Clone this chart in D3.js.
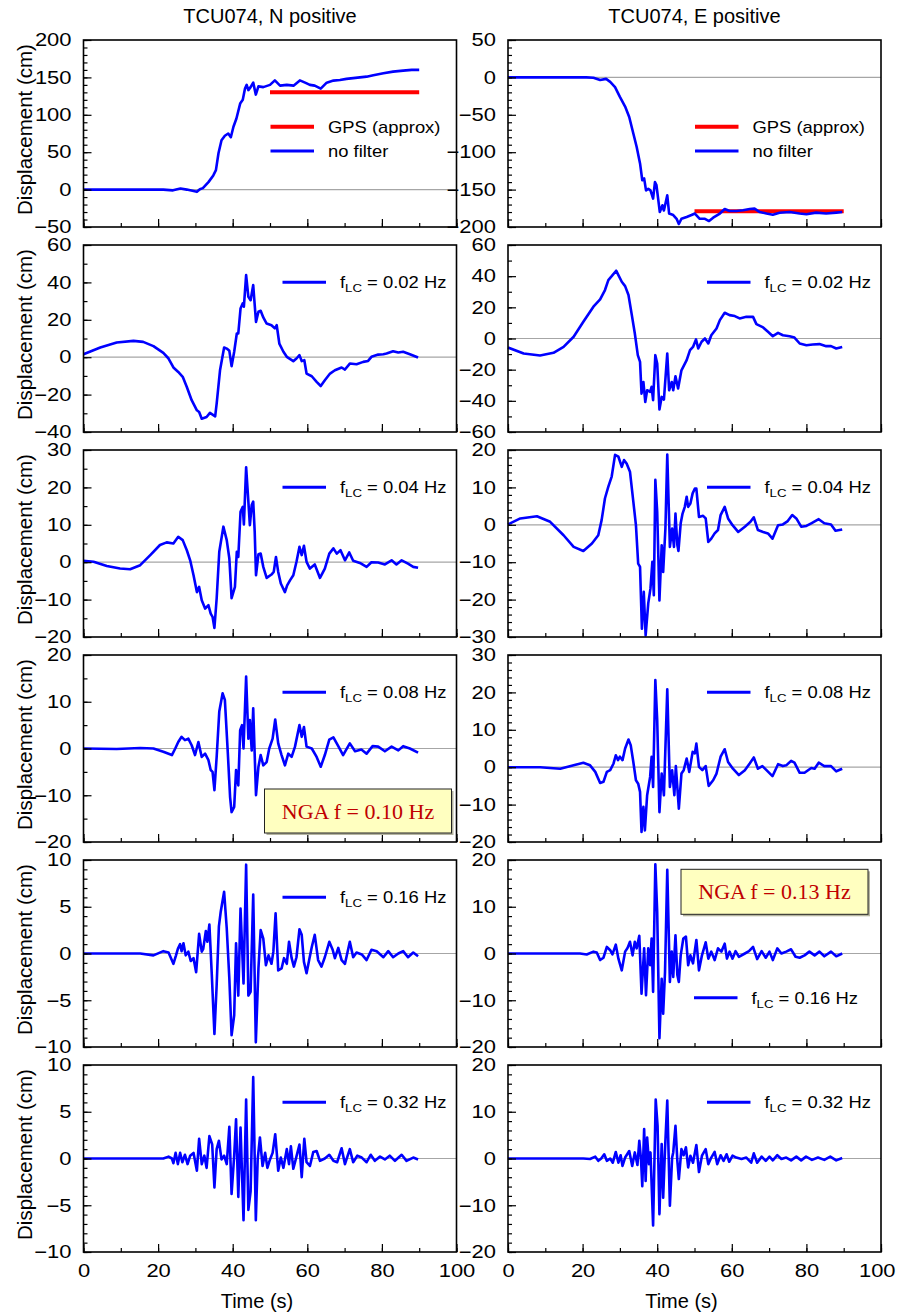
<!DOCTYPE html>
<html>
<head>
<meta charset="utf-8">
<script src="https://cdn.jsdelivr.net/npm/d3@7"></script>
<style>
  body { margin: 0; background: #fff; }
  svg { display: block; }
</style>
</head>
<body>
<div id="chart"></div>
<script>
// DATA: [time (s), displacement (cm)]
var nNoFilter = [[0,0],[21.4,0],[24,-1],[26,1.5],[27.7,0],[30.4,-3],[31.2,0.5],[32,2],[33.5,10],[34.8,19],[35.5,26],[36.2,49],[37,66],[37.9,72],[38.8,75],[39.5,70],[40.2,84],[41,95],[42,115],[42.7,120],[43.3,135],[43.75,140],[44.2,133],[44.8,137],[45.5,143],[46.2,127],[46.9,138],[48.2,137],[50,140],[51.3,146],[52.7,139],[54.5,140],[56.3,139],[58,146],[59.4,143],[60.7,140],[62,139],[63.6,135],[65.2,143],[67,145.7],[68.75,146.6],[70.5,148],[72.3,149],[74.1,150],[75.9,151],[77.7,153],[80.4,155.5],[83,157.7],[85.7,159],[88,160],[90,160]];
var eNoFilter = [[0,0],[21,0],[22.9,-0.5],[24.7,-3.5],[26.3,-2],[27.4,-6],[28.7,-13],[30,-26],[31.4,-39],[32.5,-53],[33.6,-75],[34.5,-93],[35.4,-115],[36,-137.5],[36.5,-135],[37,-151],[37.6,-149],[38.2,-151],[38.9,-162],[39.4,-140],[39.8,-144],[40.3,-164],[40.7,-180],[41.4,-171],[41.8,-178],[42.7,-157.6],[43.2,-182],[44.3,-184],[45.2,-189],[45.8,-196],[46.5,-189],[47.9,-186.6],[49.2,-184],[50.1,-182],[51.4,-189],[52.8,-189],[53.9,-192],[55,-187.5],[56.8,-182],[58.1,-176],[59.4,-178.6],[61.2,-178.6],[63,-177.7],[64.8,-176],[66.1,-175.4],[67.5,-180],[69.3,-182],[71,-183.5],[72.8,-181],[75.5,-180],[78.2,-182],[80,-183],[82.6,-180.8],[85.3,-182],[88,-180.8],[89.6,-180]];
var gpsN = [[50,130],[90,130]];
var gpsE = [[50,-179],[90,-179]];

var n002 = [[0,1.6],[4.5,5.2],[8.9,7.9],[13.4,8.75],[16,8.2],[18.75,5.9],[21.4,2.3],[22.8,-0.7],[24.1,-5.5],[25.4,-7.9],[26.6,-10.5],[27.7,-15.9],[29,-23],[30.4,-28.4],[31,-29.3],[31.7,-32.9],[33,-32],[33.9,-29.8],[35.3,-31.6],[35.7,-24.8],[36.6,-7],[37.7,5.2],[38.4,4.6],[39.1,3.4],[39.7,-4.8],[40.4,2.9],[41.1,12.7],[41.5,12.7],[42.1,26],[42.7,28.8],[43,27],[43.6,43.9],[44.2,32.3],[44.8,30.5],[45.1,34],[45.5,38.6],[45.8,30.5],[46.25,18.9],[46.9,24.3],[47.5,24.8],[48.2,21.25],[49.1,18],[50.4,17.1],[51.3,15.4],[51.8,17.1],[52.5,7.3],[53.6,2.9],[54.5,0.2],[56.25,-2.1],[57.1,-0.7],[57.9,1.1],[58.5,-2.1],[59.2,-1.6],[59.8,-8.75],[61.2,-10.2],[62.5,-13.2],[63.6,-15.4],[64.7,-12.3],[66.1,-8.75],[67.4,-7],[69.2,-5.5],[70.1,-6.6],[71.4,-3.4],[73.2,-3.75],[75,-2.5],[76.3,-2],[77.2,0.2],[79,1.4],[80.4,1.6],[81.25,2],[83,3.2],[84.4,2.5],[85.7,2.9],[87.5,1.6],[89.7,-0.2]];
var e002 = [[0,-5.8],[4.2,-9.6],[8.6,-10.9],[12.2,-9.2],[14.9,-5.4],[17.6,1.1],[20.2,10.7],[22.9,20.4],[24.7,25.1],[26,31.1],[26.9,37.5],[27.8,40],[29,43.5],[29.6,40.7],[30.5,36.4],[31.4,33.6],[32.3,27.9],[33.2,15],[34,3.2],[34.8,-10.7],[35.4,-15],[35.8,-35.4],[36.3,-27.9],[36.8,-40.7],[37.3,-33.2],[38.1,-34.3],[38.5,-31],[38.9,-39.6],[39.5,-10.7],[40,-16],[40.6,-45.6],[41.2,-37.5],[41.8,-39.2],[42.7,-9.6],[43.2,-33.2],[43.9,-27.9],[44.3,-33.2],[44.9,-24.2],[45.6,-32.1],[46.5,-20.4],[47.9,-13.9],[48.8,-7.5],[49.6,-5.4],[50.4,-0.6],[51,-6.4],[51.9,-2.1],[52.8,0],[53.7,-3.2],[54.5,2.1],[55.9,6.4],[56.8,11.8],[58.1,16.5],[59.4,15],[60.8,14.4],[62.1,12.9],[63.9,13.9],[65.7,13.9],[66.6,9.2],[68.4,7.1],[69.7,4.3],[71,1.5],[72.4,3.6],[73.7,2.1],[75.5,1.5],[76.8,0.6],[78.2,-3.2],[80,-4.3],[81.7,-3.9],[83.5,-3.6],[85.3,-4.9],[86.6,-4.9],[88,-6.4],[89.6,-5.4]];

var n004 = [[0,0.4],[2.7,0.1],[6.25,-1],[9.8,-1.7],[12.5,-1.9],[15.2,-0.8],[17.9,1.9],[20.5,4.6],[22.3,5.3],[24.1,5],[25.4,6.8],[26.6,5.9],[27.7,3.2],[28.6,0.5],[29.5,-3.5],[30.4,-8],[31,-6.6],[31.7,-10.2],[32.6,-12.4],[33.5,-11.5],[34.1,-13.75],[34.6,-14.6],[35.1,-17.6],[35.7,-9.7],[36.4,2.8],[37.5,9.5],[38.4,5.9],[39.1,1],[39.7,-9.6],[40.6,-6.6],[41.1,2.8],[41.5,1.4],[42.1,13.5],[42.7,14.8],[43,10.1],[43.6,25.4],[44.2,16.2],[44.6,9.9],[45.1,15.3],[45.5,16.2],[45.9,8.1],[46.25,-3.5],[46.9,2.1],[47.5,2.3],[48.2,-1.25],[49.1,-4.2],[50.4,-3.3],[51,-2.6],[51.6,1.4],[52.2,-2.6],[52.9,-5.7],[54,-8],[54.6,-6.2],[55.4,-4.8],[56.25,-3.5],[57.1,0.1],[57.9,4.1],[58.5,1.9],[59.1,4.4],[59.8,0.1],[60.7,-1.7],[62,-0.6],[63.4,-4.2],[64.7,-1.7],[65.9,2.3],[67,3.7],[67.9,2.3],[68.9,3.2],[70.1,0.5],[71.25,2.6],[72.3,0.4],[74.1,-0.2],[75.9,-1.25],[77.2,0],[79,-0.1],[80.8,-0.6],[82.6,0.5],[83.9,-0.6],[85.3,0.5],[87,-0.4],[88.4,-1.25],[89.7,-1.5]];
var e004 = [[0,0.1],[3.3,1.7],[7.75,2.3],[11.3,0.8],[14.9,-2.8],[17.6,-5.9],[20.2,-7],[22.5,-5],[24.2,-2.8],[25.1,1.25],[26,7.1],[26.9,10.2],[27.8,12.9],[28.7,18.7],[29.6,18.2],[30.5,15.5],[31.1,17.3],[31.8,16.4],[32.7,14.2],[33.6,6.2],[34.3,-0.1],[34.9,-10.4],[35.4,-11.25],[35.9,-27.8],[36.4,-17.9],[36.9,-29.6],[37.6,-21],[38.2,-17],[38.7,-9.9],[39.1,-18.8],[39.5,12],[40,3.5],[40.6,-20.2],[41.2,-5.5],[41.6,-12.6],[42.2,-1],[42.7,18.8],[43.4,-5.9],[44,-1],[44.5,-5.9],[44.9,3],[45.4,-5.4],[45.7,-7],[46.3,0.4],[46.8,3],[47.4,4.8],[47.9,7.5],[48.3,4.8],[48.9,5.7],[49.5,8.4],[50.1,9.7],[50.5,9.7],[51.2,2.1],[52.3,2.4],[53,1.7],[53.7,-4.6],[54.5,-3.7],[55.4,-2.3],[56.3,-1.4],[57,2.6],[58.1,4.8],[59,1.7],[60.2,-0.1],[61.7,-1.9],[63.5,-0.5],[65,0.8],[65.9,2],[67,-1.4],[68.4,-1.9],[69.7,-2.3],[70.9,-3.7],[72.4,-0.1],[73.7,0.1],[75,1],[76.2,2.6],[77.3,1.7],[78.6,-0.5],[80,-0.3],[81.3,0.4],[83.3,1.5],[84.8,0.4],[86.6,0.1],[87.8,-1.6],[89.6,-1.25]];

var n008 = [[0,0],[8.9,-0.1],[15.2,0.1],[18.75,0],[21.4,-0.7],[23.7,-1.4],[24.6,0],[25.4,1.4],[26.3,2.5],[27.2,1.8],[28.1,2.1],[29,0.7],[29.9,-1.4],[30.8,1.4],[31.7,-1.8],[32.6,-1.1],[33.5,-2.5],[34.1,-4.6],[34.6,-5],[35.1,-8.9],[35.7,-1.8],[36.4,7.9],[37.3,11.8],[37.9,10.4],[38.7,-1.1],[39.3,-10.4],[39.7,-13.6],[40.4,-12.5],[40.9,-4.6],[41.5,-7.9],[42,3.9],[42.5,5],[42.9,0],[43.6,15.4],[44.2,2.1],[44.6,6.1],[45.1,-0.4],[45.5,8.6],[46.25,-10],[46.9,-3.9],[47.5,-1.4],[48.2,-3.6],[49.1,-2.9],[49.8,0],[50.7,2.1],[51.4,6.2],[52.2,1.1],[53.1,-1.4],[54,-3.6],[54.9,-1.1],[55.8,-1.8],[56.7,0.4],[57.9,5],[58.5,2.5],[59.1,4.6],[59.8,0.4],[61.2,0],[62.5,-1.8],[63.6,-3.9],[64.7,-1.4],[65.9,1.9],[67,2.4],[68.3,0.5],[69.6,-1.4],[71.4,1.1],[72.8,-0.6],[74.5,-0.2],[75.9,-1.1],[77.5,0.5],[79,0.4],[80.8,-0.6],[82.6,0.4],[84.4,-0.4],[85.7,0.5],[87.5,0],[89.7,-0.9]];
var e008 = [[0,0],[8.6,0],[14,-0.4],[17.6,0.5],[20.2,1.2],[22,0.5],[23.4,-1.25],[24.7,-4.2],[25.6,-3.9],[26.5,-1.25],[27.4,-0.8],[28.3,1],[28.9,3.2],[29.5,1.9],[30,2.8],[30.7,1.9],[31.4,5],[32.3,7.4],[32.9,5.9],[33.6,1.4],[34.3,-3.5],[34.9,-4.4],[35.4,-6.6],[35.8,-17.3],[36.3,-10.6],[36.7,-16.9],[37.3,-7.5],[38.1,-2.6],[38.5,2.8],[38.9,-5.3],[39.5,23.3],[40,12.6],[40.6,-12],[41.2,-1.7],[41.8,-7.5],[42.7,20.8],[43.4,-5.3],[44,-0.8],[44.6,-7.5],[45,0.3],[45.8,-11.1],[46.5,-1.7],[47.1,-0.8],[47.9,2.3],[48.6,-1.25],[49.5,4.1],[50.1,3.7],[50.5,6.3],[51.2,0.1],[52.1,-0.8],[53,0.3],[53.8,-5],[55,-3.5],[55.9,-1.7],[57,2.8],[58.1,4.8],[59,1.4],[60.3,-0.4],[61.9,-2.1],[63.5,-0.8],[64.8,1],[65.9,2.6],[67,-0.4],[68.2,0.3],[69.3,-0.8],[70.9,-2.4],[72.4,0.8],[73.7,0.3],[74.6,0.5],[75.9,1.7],[76.8,1.2],[78.2,-1.5],[79.5,-1.5],[81.3,-0.2],[82.2,-0.4],[83.3,1.2],[84.8,0.3],[86.6,0.3],[88,-1.1],[89.6,-0.4]];

var n016 = [[0,0],[15.2,0],[18.75,-0.2],[21.4,0.25],[22.8,0.1],[24.1,-1.1],[24.8,-0.2],[25.3,0.5],[25.9,1],[26.3,0.25],[26.8,1.1],[27.4,-0.2],[28.1,0.2],[28.75,-0.8],[29.5,-0.5],[30.2,-2],[31,2.1],[31.7,0.2],[32.1,0.5],[32.8,2.4],[33.2,1.25],[33.75,3.1],[34.4,-2.3],[35.1,-8.6],[35.7,-3.4],[36.3,2.9],[36.8,4.5],[37.7,6.6],[38.4,2.7],[39.1,-2.7],[39.7,-8.75],[40.4,-6.6],[40.9,1.1],[41.5,-4.5],[42.1,4.8],[42.9,-3.2],[43.6,9.5],[44.2,-4.5],[44.8,-4.1],[45.5,6.3],[46.2,-9.5],[46.9,-1.6],[47.5,2.5],[48.2,1.6],[48.9,-1.25],[49.6,-0.2],[50.4,-1.1],[50.9,0.2],[51.5,4.3],[52.2,-1.8],[53.1,-1.6],[53.75,-0.5],[54.5,-1.1],[55.1,1.25],[55.8,-0.5],[56.4,-1.4],[57.1,-0.4],[57.9,2.6],[58.5,2],[59.1,-0.9],[59.8,-2.1],[60.5,-0.7],[61.2,0.7],[62,2],[62.9,-0.7],[63.8,-1.4],[64.7,-0.4],[65.9,1.25],[66.8,0.4],[67.4,-0.5],[68.3,0.6],[69.2,-0.7],[70.1,-1.1],[71.4,1.25],[72.3,-0.4],[73.2,0.1],[74.6,-0.1],[75.9,-0.7],[77.2,0.4],[78.6,0.25],[80.4,-0.4],[81.7,0.25],[83,-0.4],[84.4,0],[85.7,0.25],[87,-0.4],[88.4,0.1],[89.7,-0.3]];
var e016 = [[0,0],[19.3,0],[21.1,-0.2],[22.9,0.4],[23.8,0.2],[24.7,-1.4],[25.6,-0.9],[26.5,1.4],[27.4,0.7],[28,-0.2],[28.9,1.9],[29.6,-1.1],[30.5,-3.6],[31.4,0.4],[32,1.1],[32.7,2.5],[33.4,-0.4],[34,2.5],[34.5,1.1],[35.2,3.8],[35.8,-8.6],[36.5,1.1],[37,-8.9],[37.6,1.1],[38.1,-2.5],[38.5,3.2],[38.9,-8.2],[39.5,19.1],[40,8.9],[40.6,-18.1],[41.2,-5.4],[41.6,-12.9],[42.1,-3.9],[42.7,17.9],[43.4,-6.1],[43.9,0.4],[44.3,-5],[44.9,3.9],[45.4,-4.6],[45.8,-6.1],[46.3,-0.4],[47,3.2],[47.7,3.6],[48.3,-2.5],[48.9,-0.4],[49.6,-2.1],[50.5,2.9],[51.2,-3.6],[52,-0.4],[53,2.4],[53.7,-1.1],[54.5,0.4],[55.4,-1.4],[56.3,1.1],[57.2,0.4],[58.1,2.1],[58.7,-1.1],[59.4,0.4],[60.2,-1.1],[61,0.5],[61.9,-0.7],[63.5,0],[64.6,0.5],[65.7,1.4],[66.8,-1.2],[68,0.5],[69.1,-0.9],[70.1,0.4],[71,-1.4],[72.2,1.1],[73.3,0],[74.6,0.4],[75.9,0.9],[77.1,-0.7],[78.2,-0.9],[79.5,-0.4],[80.8,0.4],[82.2,-0.4],[83.5,0.4],[84.8,-0.6],[86.6,0.4],[88,-0.6],[89.6,0]];

var n032 = [[0,0],[21.4,0],[22.8,0.2],[23.7,0],[24.1,-0.5],[24.7,0.6],[25.3,-0.6],[25.9,0.6],[26.5,-0.4],[27.2,0.4],[27.9,-0.6],[28.6,0.3],[29.5,0.6],[30.4,-1.3],[31,2.1],[31.7,-0.6],[32.4,0.3],[33,-1],[33.75,2.4],[34.5,1.5],[35.1,-3.1],[35.7,1],[36.3,1.9],[37,-0.1],[37.7,0.3],[38.4,-0.6],[39.1,3.4],[39.7,-3.8],[40.4,0.3],[40.9,4.2],[41.5,-4.1],[42.1,3.3],[42.9,-6.6],[43.6,6.3],[44.2,-5.5],[44.8,-3.5],[45.5,8.7],[46.2,-6.6],[46.7,-0.1],[47.3,2.25],[48,-0.8],[48.7,0.6],[49.3,-1],[50,-0.1],[50.7,0.6],[51.4,2.6],[52.2,-1.3],[52.9,0.1],[53.6,-1],[54.5,1],[55.1,-0.6],[55.6,1.3],[56.25,-1.1],[56.9,-0.1],[57.9,1.5],[58.5,-2],[59.2,2.1],[59.8,-0.4],[60.7,-0.8],[61.6,0.7],[62.5,0.8],[63.4,-0.25],[64.7,0],[65.9,0.4],[67,-0.25],[68,-0.4],[69.2,1.1],[70.1,-0.6],[71.4,1],[72.3,-0.4],[73.4,0.3],[74.6,0.1],[75.9,-0.4],[77,0.4],[78.1,-0.25],[79.5,0.2],[80.8,-0.1],[82.1,0.3],[83.5,-0.25],[85.3,0.4],[86.6,-0.25],[88.4,0.1],[89.7,-0.1]];
var e032 = [[0,0],[20.2,0],[22,-0.1],[23.4,0.4],[24.2,-0.5],[25,0],[25.8,0.9],[26.5,-0.5],[27.4,0],[28.1,-0.9],[28.9,1.4],[29.6,-0.9],[30.2,0.7],[30.7,-1.6],[31.4,0.2],[32.5,1.6],[33.3,-1.6],[34,1.3],[34.7,-1.4],[35.2,3.8],[35.65,-0.1],[36,-5.9],[36.5,6.3],[36.9,-4.8],[37.3,4.5],[37.8,-1.2],[38.2,1.3],[38.9,-14.3],[39.6,12.6],[40.1,7],[40.6,-11.9],[41.2,3.1],[41.6,-8.4],[42.1,2],[42.7,12.4],[43.4,-10.1],[44,0.2],[44.3,1.3],[44.9,7],[45.4,-0.5],[45.8,-4.4],[46.5,2],[47.1,0.7],[47.7,2.4],[48.3,-1.9],[48.9,0.6],[49.6,-0.9],[50.5,2.9],[51.2,-2.9],[52,0.6],[53,2],[53.7,-1.2],[54.5,0.2],[55.4,1.4],[56.1,-1.2],[57,0.7],[57.8,-0.5],[58.6,0.9],[59.3,-0.7],[60.2,0.6],[61.2,0.2],[62.6,-0.1],[63.9,0.2],[65.2,-0.9],[65.9,1.1],[66.8,-0.9],[68,0.4],[69.1,-0.5],[70.1,0.4],[71,-0.4],[72.2,0.7],[73.3,-0.1],[74.6,0.2],[75.9,-0.4],[77.3,0.4],[78.6,-0.4],[79.9,0.4],[81.5,-0.3],[83.1,0.2],[84.8,-0.3],[86.4,0.4],[88,-0.4],[89.6,0.1]];

var seriesN = [nNoFilter, n002, n004, n008, n016, n032];
var seriesE = [eNoFilter, e002, e004, e008, e016, e032];
var cutoffs = ["0.02", "0.04", "0.08", "0.16", "0.32"];
var titles = ["TCU074, N positive", "TCU074, E positive"];
var xTickValues = [0, 20, 40, 60, 80, 100];
var yDomainsN = [[-50, 200], [-40, 60], [-20, 30], [-20, 20], [-10, 10], [-10, 10]];
var yDomainsE = [[-200, 50], [-60, 60], [-30, 20], [-20, 30], [-20, 20], [-20, 20]];
var yStepsN = [50, 20, 10, 10, 5, 5];
var yStepsE = [50, 20, 10, 10, 10, 10];
var yMinorN = [10, 10, 5, 5, 1, 1];
var yMinorE = [10, 10, 2, 2, 2, 2];

// LAYOUT
var width = 898, height = 1316;
var plotW = 373, plotH = 187;
var colX = [83.5, 508];
var rowY0 = 40, rowGap = 205;
var font = "'Liberation Sans', Arial, Helvetica, sans-serif";
var blue = "#0000ff";
var red = "#ff0000";

var svg = d3
  .select("#chart")
  .append("svg")
  .attr("width", width)
  .attr("height", height)
  .style("font-family", font);

var xScale = d3.scaleLinear().domain([0, 100]).range([0, plotW]);

function stepTicks(domain, step) {
  var out = [];
  for (var v = domain[0]; v <= domain[1] + 1e-9; v += step) out.push(+v.toFixed(6));
  return out;
}

function stretchLabels(sel, sx) {
  // reference tick labels are a bit wider than the plain font
  sel.selectAll(".tick text").each(function () {
    var t = d3.select(this);
    var x = +t.attr("x") || 0;
    var y = +t.attr("y") || 0;
    t.attr("x", 0).attr("y", 0).attr("transform", "translate(" + x + "," + y + ") scale(" + sx + ",1)");
  });
}

function drawPanel(col, row) {
  var data = col == 0 ? seriesN[row] : seriesE[row];
  var yDomain = col == 0 ? yDomainsN[row] : yDomainsE[row];
  var yStep = col == 0 ? yStepsN[row] : yStepsE[row];
  var yMinor = col == 0 ? yMinorN[row] : yMinorE[row];
  var top = rowY0 + rowGap * row;
  var left = colX[col];

  var yScale = d3.scaleLinear().domain(yDomain).range([plotH, 0]);
  var g = svg.append("g").attr("transform", "translate(" + left + "," + top + ")");

  // zero line
  g.append("line")
    .attr("x1", 0)
    .attr("x2", plotW)
    .attr("y1", yScale(0))
    .attr("y2", yScale(0))
    .attr("stroke", "#a6a6a6")
    .attr("stroke-width", 1.2);

  var line = d3
    .line()
    .x(function (d) { return xScale(d[0]); })
    .y(function (d) { return yScale(d[1]); });

  if (row == 0) {
    g.append("path")
      .datum(col == 0 ? gpsN : gpsE)
      .attr("d", line)
      .attr("fill", "none")
      .attr("stroke", red)
      .attr("stroke-width", 4);
  }

  g.append("path")
    .datum(data)
    .attr("d", line)
    .attr("fill", "none")
    .attr("stroke", blue)
    .attr("stroke-width", 2.6)
    .attr("stroke-linejoin", "round");

  // minor ticks
  g.append("g")
    .call(d3.axisLeft(yScale).tickValues(stepTicks(yDomain, yMinor)).tickSize(-4).tickSizeOuter(0).tickFormat(""))
    .call(function (a) { a.select(".domain").remove(); });
  g.append("g")
    .attr("transform", "translate(0," + plotH + ")")
    .call(d3.axisBottom(xScale).tickValues(d3.range(0, 101, 10)).tickSize(-4).tickSizeOuter(0).tickFormat(""))
    .call(function (a) { a.select(".domain").remove(); });

  // major ticks + labels
  var yAxis = g.append("g")
    .call(d3.axisLeft(yScale).tickValues(stepTicks(yDomain, yStep)).tickSize(-8).tickSizeOuter(0).tickPadding(12).tickFormat(d3.format("d")));
  yAxis.select(".domain").remove();
  yAxis.selectAll("text").attr("font-size", 18).attr("font-family", font).attr("fill", "#000");
  stretchLabels(yAxis, 1.22);

  var xAxis = g.append("g")
    .attr("transform", "translate(0," + plotH + ")")
    .call(d3.axisBottom(xScale).tickValues(xTickValues).tickSize(-8).tickSizeOuter(0).tickPadding(12).tickFormat(d3.format("d")));
  xAxis.select(".domain").remove();
  if (row == 5) {
    xAxis.selectAll("text").attr("font-size", 18).attr("font-family", font).attr("fill", "#000");
    stretchLabels(xAxis, 1.22);
    if (col == 1) {
      // keep the last label inside the page
      xAxis.selectAll(".tick text").filter(function (d) { return d == 100; })
        .attr("x", -3.5);
    }
  } else {
    xAxis.selectAll("text").remove();
  }
  g.selectAll(".tick line").attr("stroke", "#000").attr("stroke-width", 1.2);

  // frame
  g.append("rect")
    .attr("width", plotW)
    .attr("height", plotH)
    .attr("fill", "none")
    .attr("stroke", "#000")
    .attr("stroke-width", 1.6);

  // legend
  if (row == 0) {
    legendItem(g, 187, 86.7, red, 4, "GPS (approx)", null);
    legendItem(g, 187, 111, blue, 3, "no filter", null);
  } else if (col == 1 && row == 4) {
    legendItem(g, 186, 137.7, blue, 3, "f", cutoffs[row - 1]);
  } else {
    legendItem(g, 199, 37.3, blue, 3, "f", cutoffs[row - 1]);
  }

  if (col == 0 && row == 3) ngaBox(g, 181, 134, 187, 44, "NGA f = 0.10 Hz");
  if (col == 1 && row == 4) ngaBox(g, 173, 9.3, 187, 45, "NGA f = 0.13 Hz");

  if (col == 0) {
    svg.append("text")
      .attr("transform", "translate(32," + (top + plotH / 2 - 4) + ") rotate(-90)")
      .attr("text-anchor", "middle")
      .attr("font-size", 20.5)
      .text("Displacement (cm)");
  }
  if (row == 0) {
    svg.append("text")
      .attr("x", left + plotW / 2)
      .attr("y", 23)
      .attr("text-anchor", "middle")
      .attr("font-size", 20)
      .text(titles[col]);
  }
  if (row == 5) {
    svg.append("text")
      .attr("x", left + plotW / 2 - 13)
      .attr("y", 1308)
      .attr("text-anchor", "middle")
      .attr("font-size", 20)
      .text("Time (s)");
  }
}

function legendItem(g, x, y, color, sw, label, cut) {
  g.append("line")
    .attr("x1", x)
    .attr("x2", x + 43.5)
    .attr("y1", y)
    .attr("y2", y)
    .attr("stroke", color)
    .attr("stroke-width", sw);
  var t = g.append("text")
    .attr("transform", "translate(" + (x + 57.5) + "," + (y + 6) + ") scale(1.15,1)")
    .attr("font-size", 16);
  if (cut == null) {
    t.text(label);
  } else {
    t.append("tspan").text("f");
    t.append("tspan").attr("font-size", 11.5).attr("dy", 4).text("LC");
    t.append("tspan").attr("dy", -4).text(" = " + cut + " Hz");
  }
}

function ngaBox(g, x, y, w, h, label) {
  g.append("rect")
    .attr("x", x + 2)
    .attr("y", y + 2)
    .attr("width", w)
    .attr("height", h)
    .attr("fill", "#b5b5a0");
  g.append("rect")
    .attr("x", x)
    .attr("y", y)
    .attr("width", w)
    .attr("height", h)
    .attr("fill", "#ffffc0")
    .attr("stroke", "#222")
    .attr("stroke-width", 1);
  g.append("text")
    .attr("x", x + w / 2)
    .attr("y", y + h / 2 + 7.5)
    .attr("text-anchor", "middle")
    .attr("font-family", "'Liberation Serif', 'Times New Roman', serif")
    .attr("font-size", 22)
    .attr("fill", "#c00000")
    .text(label);
}

for (var r = 0; r < 6; r++) {
  drawPanel(0, r);
  drawPanel(1, r);
}
</script>
</body>
</html>
